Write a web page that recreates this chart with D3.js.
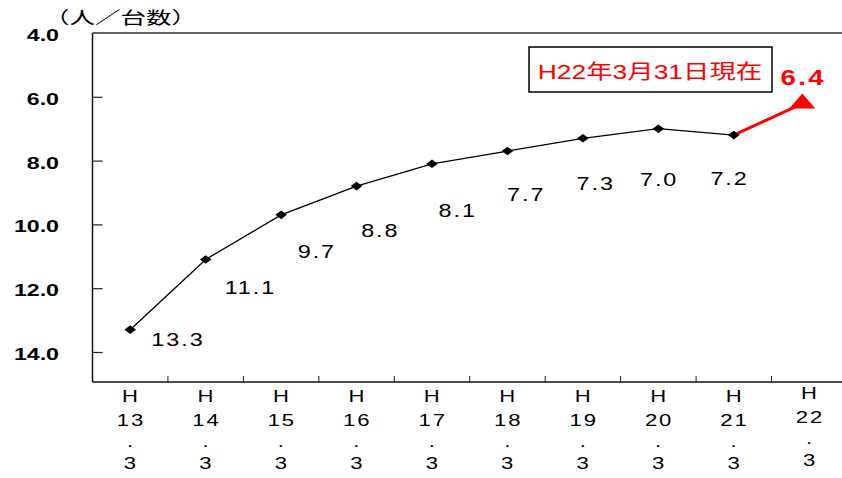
<!DOCTYPE html>
<html>
<head>
<meta charset="utf-8">
<script src="https://cdn.jsdelivr.net/npm/d3@7/dist/d3.min.js"></script>
<style>
  html, body { margin: 0; padding: 0; background: #fff; }
  svg { display: block; }
  text { font-family: "Liberation Sans", Arial, "Noto Sans CJK JP", sans-serif; }
</style>
</head>
<body>
<svg id="chart" width="842" height="478"></svg>
<script>
// Fiscal year-end points (March 31 of each Heisei year)
const categories = ["H13.3", "H14.3", "H15.3", "H16.3", "H17.3", "H18.3", "H19.3", "H20.3", "H21.3", "H22.3"];
// Persons per vehicle, H13 to H21
const values = [13.3, 11.1, 9.7, 8.8, 8.1, 7.7, 7.3, 7.0, 7.2];
// Latest figure, as of H22-03-31
const latestCategory = "H22.3";
const latestValue = 6.4;
const yTicks = [4, 6, 8, 10, 12, 14];
const unitLabel = "（人／台数）";
const noteLabel = "H22年3月31日現在";

// Label nudges (dx, dy) from each point, in px
const labelNudge = [[47, 16], [44, 35], [35, 43], [23, 51], [25, 53], [18, 50], [12, 52], [0, 57], [-5, 50]];

const svg = d3.select("#chart");
const plotLeft = 92.5, plotRight = 847, plotTop = 33, plotBottom = 382;

const x = d3.scaleBand().domain(categories).range([plotLeft, plotRight]);
const y = d3.scaleLinear().domain([4, 14]).range([plotTop, 352]);
const cx = c => x(c) + x.bandwidth() / 2;

// Horizontally widened text
function label(g, px, py, str, o) {
  const ls = o.spacing || 0;
  return g.append("text")
    .attr("transform", `translate(${px + (o.anchor === "end" ? 0 : ls / 2)},${py}) scale(${o.sx || 1.35},1)`)
    .attr("text-anchor", o.anchor || "middle")
    .attr("font-size", o.size || 18)
    .attr("font-weight", o.weight || "normal")
    .attr("letter-spacing", ls)
    .attr("fill", o.fill || "#000")
    .attr("font-family", o.family || null)
    .text(str);
}

// Frame: top border, left and bottom axes
svg.append("line").attr("x1", plotLeft).attr("x2", 842).attr("y1", plotTop).attr("y2", plotTop)
  .attr("stroke", "#333").attr("stroke-width", 1.3);

const yAxis = d3.axisLeft(y).tickValues(yTicks).tickSize(-10).tickFormat("");
svg.append("g").attr("transform", `translate(${plotLeft},0)`).call(yAxis)
  .call(g => g.select(".domain").remove())
  .call(g => g.selectAll(".tick line").attr("stroke", "#222").attr("stroke-width", 1.2)
    .filter(d => d === 4).remove());
svg.append("line").attr("x1", plotLeft).attr("x2", plotLeft).attr("y1", plotTop).attr("y2", plotBottom)
  .attr("stroke", "#111").attr("stroke-width", 1.5);
svg.append("line").attr("x1", plotLeft).attr("x2", 842).attr("y1", plotBottom).attr("y2", plotBottom)
  .attr("stroke", "#111").attr("stroke-width", 1.5);

// Category dividers on the bottom axis
const bounds = categories.slice(1).map(c => x(c));
svg.append("g").selectAll("line").data(bounds).join("line")
  .attr("x1", d => d).attr("x2", d => d)
  .attr("y1", plotBottom).attr("y2", plotBottom - 6)
  .attr("stroke", "#222").attr("stroke-width", 1);

// Y tick labels
const yl = svg.append("g");
yTicks.forEach(t => label(yl, 59, y(t) + 8, t.toFixed(1), { anchor: "end", size: 16, weight: "bold", sx: 1.45 }));

// Unit label
label(svg, 44, 24, unitLabel, { anchor: "start", size: 17, sx: 1.5, family: "'Noto Sans CJK JP', sans-serif" });

// X tick labels, stacked vertically
const xl = svg.append("g");
categories.forEach(c => {
  const m = c.match(/^H(\d+)\.(\d+)$/);
  const px = cx(c);
  const shift = c === latestCategory ? -3 : 0;
  const o = { size: 17, sx: 1.3, spacing: 1.5 };
  label(xl, px, 402 + shift, "H", o);
  label(xl, px, 426 + shift, m[1], o);
  label(xl, px, 447 + shift, ".", o);
  label(xl, px, 469 + shift, m[2], o);
});

// Main series
const pts = values.map((v, i) => ({ c: categories[i], v }));
svg.append("path").datum(pts)
  .attr("fill", "none").attr("stroke", "#000").attr("stroke-width", 1.3)
  .attr("d", d3.line().x(d => cx(d.c)).y(d => y(d.v)));

// Latest segment in red, ending in a triangle
const last = pts[pts.length - 1];
const tx = cx(latestCategory) - 7, ty = y(latestValue) - 6;
svg.append("line")
  .attr("x1", cx(last.c)).attr("y1", y(last.v)).attr("x2", tx).attr("y2", ty)
  .attr("stroke", "#ff0000").attr("stroke-width", 3);
svg.append("path")
  .attr("d", `M${tx},${ty - 10} L${tx + 13},${ty + 5} L${tx - 13},${ty + 5} Z`)
  .attr("fill", "#ff0000");

// Diamond markers
svg.append("g").selectAll("path").data(pts).join("path")
  .attr("transform", d => `translate(${cx(d.c)},${y(d.v)})`)
  .attr("d", "M0,-4.3 L5.8,0 L0,4.3 L-5.8,0 Z")
  .attr("fill", "#000");

// Value labels
const vl = svg.append("g");
pts.forEach((d, i) => {
  label(vl, cx(d.c) + labelNudge[i][0], y(d.v) + labelNudge[i][1], d.v.toFixed(1),
    { size: 18, sx: 1.3, spacing: 1.5 });
});
label(svg, cx(latestCategory) - 7, y(latestValue) - 25, latestValue.toFixed(1),
  { size: 22, weight: "bold", fill: "#ff0000", sx: 1.25, spacing: 2 });

// Date note box
svg.append("rect").attr("x", 529).attr("y", 47).attr("width", 243).attr("height", 45)
  .attr("fill", "#fff").attr("stroke", "#000").attr("stroke-width", 1.5);
label(svg, 650, 79, noteLabel, { size: 20, fill: "#ff0000", sx: 1.32,
  family: "'Liberation Sans', 'Noto Sans CJK JP', sans-serif" });
</script>
</body>
</html>
